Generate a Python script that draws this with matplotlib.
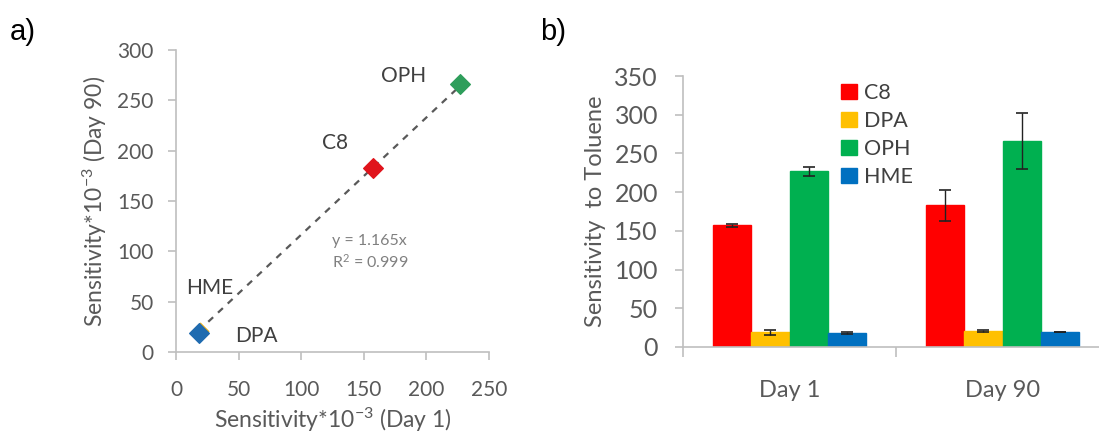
import numpy as np
import matplotlib
matplotlib.use("Agg")
import matplotlib.pyplot as plt

plt.rcParams['font.family'] = ['Lato', 'DejaVu Sans']
plt.rcParams['mathtext.fontset'] = 'custom'
plt.rcParams['mathtext.rm'] = 'Lato'
plt.rcParams['mathtext.it'] = 'Lato:italic'

# data
materials = ["C8", "DPA", "OPH", "HME"]
days = ["Day 1", "Day 90"]
day1 = [157, 19, 227, 18]
day90 = [183, 21, 266, 19]
err_day1 = [2, 3, 6, 1.5]
err_day90 = [20, 1.5, 36, 0]
slope = 1.165

bar_colors = ['#ff0000', '#ffc000', '#00b050', '#0070c0']
pt_colors = ['#e0141c', '#f2b21a', '#2e9e5b', '#1f6bb0']
axis_gray = '#bfbfbf'
text_gray = '#595959'

W, H = 1099, 438
fig = plt.figure(figsize=(W / 100, H / 100), dpi=100)


def px_axes(left, top, right, bottom):
    return fig.add_axes([left / W, 1 - bottom / H, (right - left) / W, (bottom - top) / H])


def style_axes(ax, size):
    for s in ['top', 'right']:
        ax.spines[s].set_visible(False)
    for s in ['left', 'bottom']:
        ax.spines[s].set_color(axis_gray)
        ax.spines[s].set_linewidth(1.2)
    ax.tick_params(colors=axis_gray, labelcolor=text_gray, labelsize=size, length=6, width=1.2)


# ---- a) scatter ----
ax1 = px_axes(176, 50, 489, 352)
style_axes(ax1, 15)
ax1.set_xlim(0, 250)
ax1.set_ylim(0, 300)
ax1.set_xticks(range(0, 251, 50))
ax1.set_yticks(range(0, 301, 50))
ax1.tick_params(axis='x', pad=14)
ax1.tick_params(axis='y', pad=10)

xs = np.array([min(day1), max(day1)])
ax1.plot(xs, slope * xs, ls=(0, (3, 3)), color=text_gray, lw=1.6, zorder=2)
for i, m in enumerate(materials):
    ax1.scatter(day1[i], day90[i], marker='D', s=70 if m == "DPA" else 100,
                color=pt_colors[i], zorder=2.5 if m == "DPA" else 3)

lbl_off = {"C8": (-27, 18), "DPA": (41, -4), "OPH": (-41, 6), "HME": (8, 32)}
for i, m in enumerate(materials):
    dx, dy = lbl_off[m]
    ax1.annotate(m, (day1[i], day90[i]), xytext=(dx, dy), textcoords='offset points',
                 ha='center', va='center', fontsize=15, color='#404040')
ax1.text(0.50, 0.33, "y = 1.165x\nR$^2$ = 0.999", transform=ax1.transAxes, fontsize=11.5,
         color='#808080', linespacing=1.3, va='center')
ax1.set_xlabel("Sensitivity*10$^{-3}$ (Day 1)", fontsize=16.5, color=text_gray, labelpad=4)
ax1.set_ylabel("Sensitivity*10$^{-3}$ (Day 90)", fontsize=16.5, color=text_gray, labelpad=6)

# ---- b) bars ----
ax2 = px_axes(683, 76, 1109, 347)
style_axes(ax2, 18)
ax2.set_ylim(0, 350)
ax2.set_yticks(range(0, 351, 50))
ax2.tick_params(axis='y', pad=12)
ax2.set_xlim(-0.5, 1.5)
x = np.arange(len(days))
bw = 0.18
for i, m in enumerate(materials):
    vals = [day1[i], day90[i]]
    errs = [err_day1[i], err_day90[i]]
    ax2.bar(x + (i - 1.5) * bw, vals, bw, color=bar_colors[i], edgecolor=bar_colors[i],
            label=m, yerr=errs, error_kw=dict(ecolor='#222222', elinewidth=1, capsize=4, capthick=1.2))
ax2.set_xticks(x)
ax2.set_xticklabels(days)
ax2.set_xticks([-0.5, 0.5, 1.5], minor=True)
ax2.tick_params(axis='x', which='major', length=0, pad=24, labelsize=17)
ax2.tick_params(axis='x', which='minor', length=7, color=axis_gray, width=1.2)
ax2.set_ylabel("Sensitivity  to Toluene", fontsize=17, color=text_gray, labelpad=6)
ax2.legend(loc='upper left', bbox_to_anchor=(0.372, 0.975), frameon=False, fontsize=15.5,
           borderaxespad=0, borderpad=0,
           handlelength=0.7, handleheight=0.7, handletextpad=0.35, labelspacing=0.38,
           labelcolor='#404040')

fig.text(10 / W, 1 - 32 / H, "a)", fontsize=21, family='Liberation Sans', va='center')
fig.text(540 / W, 1 - 32 / H, "b)", fontsize=21, family='Liberation Sans', va='center')

fig.savefig("out.png", dpi=100)
